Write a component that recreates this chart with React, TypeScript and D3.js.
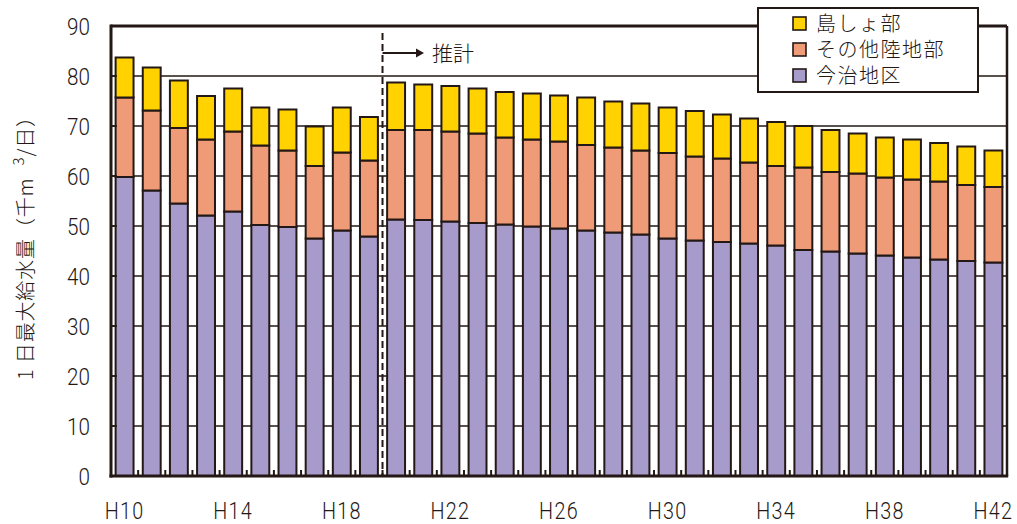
import React from 'react';
import * as d3 from 'd3';

// 年度（平成）
const years = [
  'H10', 'H11', 'H12', 'H13', 'H14', 'H15', 'H16', 'H17', 'H18', 'H19', 'H20',
  'H21', 'H22', 'H23', 'H24', 'H25', 'H26', 'H27', 'H28', 'H29', 'H30', 'H31',
  'H32', 'H33', 'H34', 'H35', 'H36', 'H37', 'H38', 'H39', 'H40', 'H41', 'H42',
];
const yearTicks = ['H10', 'H14', 'H18', 'H22', 'H26', 'H30', 'H34', 'H38', 'H42'];

// 1日最大給水量（千m3/日）
const imabari = [
  59.8, 57.1, 54.5, 52.1, 52.9, 50.2, 49.8, 47.5, 49.1, 47.9, 51.3,
  51.2, 50.9, 50.6, 50.3, 49.9, 49.5, 49.1, 48.7, 48.3, 47.5, 47.1,
  46.8, 46.5, 46.1, 45.2, 44.9, 44.5, 44.1, 43.7, 43.3, 43.0, 42.7,
];
const otherLand = [
  15.9, 16.0, 15.1, 15.2, 16.0, 15.9, 15.3, 14.5, 15.6, 15.2, 17.9,
  18.0, 18.0, 17.9, 17.4, 17.4, 17.4, 17.1, 17.0, 16.8, 17.1, 16.8,
  16.7, 16.2, 15.9, 16.5, 15.9, 16.0, 15.6, 15.6, 15.6, 15.2, 15.1,
];
const islands = [
  8.0, 8.6, 9.5, 8.7, 8.6, 7.6, 8.2, 7.9, 9.0, 8.7, 9.5,
  9.1, 9.1, 9.0, 9.1, 9.2, 9.2, 9.5, 9.2, 9.4, 9.1, 9.1,
  8.8, 8.8, 8.8, 8.3, 8.4, 8.0, 8.0, 8.0, 7.7, 7.7, 7.3,
];
const yTicks = [0, 10, 20, 30, 40, 50, 60, 70, 80, 90];
const forecastStart = 'H20';

const seriesKeys = ['imabari', 'otherLand', 'islands'];
const seriesNames: Record<string, string> = {
  islands: '島しょ部',
  otherLand: 'その他陸地部',
  imabari: '今治地区',
};
const seriesColors: Record<string, string> = {
  islands: '#FFD200',
  otherLand: '#F09B77',
  imabari: '#A79BCB',
};
const legendOrder = ['islands', 'otherLand', 'imabari'];

const W = 1017;
const H = 524;
const left = 111;
const right = 1007;
const top = 26;
const bottom = 476;
const ink = '#231815';
const numFont = 'Roboto, "Liberation Sans", sans-serif';
const jpFont = '"Noto Sans CJK JP", "Noto Sans", sans-serif';
const narrow = 0.86;

export default function App() {
  const rows = years.map((y, i) => ({
    year: y,
    imabari: imabari[i],
    otherLand: otherLand[i],
    islands: islands[i],
  }));
  const stacked = d3.stack<any>().keys(seriesKeys)(rows);

  const x = d3.scaleBand<string>().domain(years).range([left, right]).paddingInner(0.34).paddingOuter(0.17);
  const y = d3.scaleLinear().domain([0, 90]).range([bottom, top]);
  const step = x.step();
  const boundary = (i: number) => left + i * step;
  const dashX = boundary(years.indexOf(forecastStart));

  return (
    <svg width={W} height={H} style={{ display: 'block', position: 'absolute', left: 0, top: 0 }}>
      <rect x={0} y={0} width={W} height={H} fill="#fff" />
      {/* gridlines */}
      {yTicks.filter((t) => t > 0 && t < 90).map((t) => (
        <line key={t} x1={left} x2={right} y1={y(t)} y2={y(t)} stroke={ink} strokeWidth={1.6} />
      ))}
      {/* stacked bars */}
      {stacked.map((s) => (
        <g key={s.key}>
          {s.map((d, i) => (
            <rect
              key={i}
              x={x(years[i])}
              y={y(d[1])}
              width={x.bandwidth()}
              height={y(d[0]) - y(d[1])}
              fill={seriesColors[s.key]}
              stroke={ink}
              strokeWidth={2}
            />
          ))}
        </g>
      ))}
      {/* x tick marks between bars */}
      {years.map((yr, i) => i > 0 && (
        <line key={yr} x1={boundary(i)} x2={boundary(i)} y1={bottom} y2={bottom - 6} stroke={ink} strokeWidth={2} />
      ))}
      {/* y tick marks */}
      {yTicks.map((t) => (
        <line key={t} x1={left} x2={left + 6} y1={y(t)} y2={y(t)} stroke={ink} strokeWidth={1.6} />
      ))}
      {/* forecast divider */}
      <line x1={dashX} x2={dashX} y1={33} y2={bottom} stroke={ink} strokeWidth={2} strokeDasharray="7,4" />
      <line x1={dashX} x2={417} y1={53} y2={53} stroke={ink} strokeWidth={2} />
      <path d={`M416,48.5 L424,53 L416,57.5 Z`} fill={ink} />
      <text x={432} y={61} fontFamily={jpFont} fontWeight={300} fontSize={21} fill={ink}>推計</text>
      {/* frame */}
      <line x1={left} x2={right} y1={top} y2={top} stroke={ink} strokeWidth={3} />
      <line x1={right} x2={right} y1={top} y2={bottom} stroke={ink} strokeWidth={2.5} />
      <line x1={left} x2={left} y1={top - 1.5} y2={bottom + 1.5} stroke={ink} strokeWidth={3} />
      <line x1={left - 1.5} x2={right + 1.2} y1={bottom} y2={bottom} stroke={ink} strokeWidth={3} />
      {/* y tick labels */}
      {yTicks.map((t) => (
        <g key={t} transform={`translate(90,${y(t) + 8.5}) scale(${narrow},1)`}>
          <text x={0} y={0} textAnchor="end" fontFamily={numFont} fontWeight={300} fontSize={24} fill={ink}>
            {t}
          </text>
        </g>
      ))}
      {/* x tick labels */}
      {yearTicks.map((yr) => (
        <g key={yr} transform={`translate(${(x(yr) as number) + x.bandwidth() / 2},519) scale(${narrow},1)`}>
          <text x={0} y={0} textAnchor="middle" fontFamily={numFont} fontWeight={300} fontSize={23} letterSpacing={1.5} fill={ink}>
            {yr}
          </text>
        </g>
      ))}
      {/* y axis title */}
      <text
        transform="translate(33,380) rotate(-90)"
        fontFamily={jpFont}
        fontWeight={300}
        fontSize={20}
        fill={ink}
        textLength={273}
        lengthAdjust="spacing"
      >
        <tspan>1 日最大給水量（千m</tspan>
        <tspan dx={12} dy={-9} fontSize={15}>3</tspan>
        <tspan dy={9}>/日）</tspan>
      </text>
      {/* legend */}
      <rect x={758} y={8} width={220} height={84} fill="#fff" stroke={ink} strokeWidth={2} />
      {legendOrder.map((k, i) => (
        <g key={k} transform={`translate(793,${17 + i * 26})`}>
          <rect x={0} y={0} width={13} height={13} fill={seriesColors[k]} stroke={ink} strokeWidth={1.6} />
          <text x={23} y={14} fontFamily={jpFont} fontWeight={300} fontSize={20} letterSpacing={1.5} fill={ink}>
            {seriesNames[k]}
          </text>
        </g>
      ))}
    </svg>
  );
}
